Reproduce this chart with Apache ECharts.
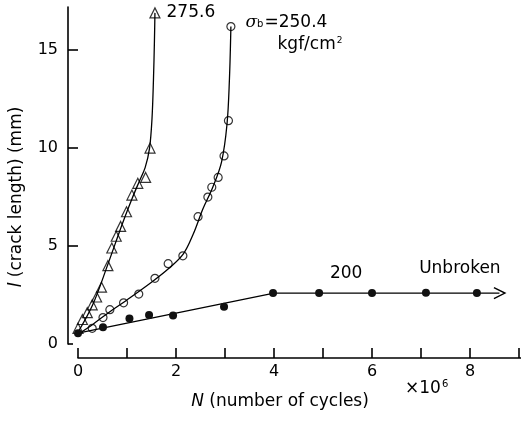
<!DOCTYPE html>
<html>
<head>
<meta charset="utf-8">
<script src="https://cdn.jsdelivr.net/npm/echarts@6/dist/echarts.min.js"></script>
<style>
  html, body { margin: 0; padding: 0; background: #fff; }
  #chart { width: 521px; height: 422px; }
</style>
</head>
<body>
<div id="chart"></div>
<script>
// Crack growth: crack length l (mm) vs number of cycles N (×10^6)

// sigma_b = 275.6 kgf/cm2 : measured points and fitted curve
const tri275 = [[0.0,0.8],[0.09,1.25],[0.19,1.6],[0.29,2.0],[0.38,2.4],[0.48,2.9],[0.61,4.0],
  [0.69,4.9],[0.78,5.5],[0.87,6.0],[0.99,6.75],[1.10,7.6],[1.22,8.2],[1.38,8.5],[1.47,10.0],[1.57,16.9]];
const fit275 = [[0,0.6],[0.3,2.0],[0.6,4.0],[0.9,6.1],[1.1,7.4],[1.25,8.3],[1.37,9.0],
  [1.46,10.0],[1.51,11.5],[1.54,13.5],[1.56,15.5],[1.57,16.9]];

// sigma_b = 250.4 kgf/cm2
const circ250 = [[0.29,0.8],[0.51,1.35],[0.65,1.75],[0.93,2.1],[1.24,2.55],[1.57,3.35],[1.84,4.1],
  [2.14,4.5],[2.45,6.5],[2.65,7.5],[2.73,8.0],[2.86,8.5],[2.98,9.6],[3.07,11.4],[3.12,16.2]];
const fit250 = [[0,0.5],[0.3,1.0],[0.65,1.65],[1.0,2.25],[1.5,3.15],[1.85,3.85],[2.15,4.6],
  [2.35,5.6],[2.55,6.9],[2.75,8.0],[2.93,9.3],[3.04,11.2],[3.09,13.5],[3.12,16.2]];

// sigma_b = 200 kgf/cm2 (unbroken)
const dot200 = [[0,0.55],[0.51,0.85],[1.05,1.3],[1.45,1.48],[1.94,1.45],[2.98,1.9],
  [3.98,2.6],[4.92,2.6],[6.0,2.6],[7.1,2.62],[8.14,2.6]];
const fit200 = [[0,0.55],[4.0,2.6],[8.6,2.6]];

const xTickValues = [0,1,2,3,4,5,6,7,8,9];
const xLabelValues = [0,2,4,6,8];
const yTickValues = [5,10,15];
const yLabelValues = [0,5,10,15];

const ink = '#000';
const font = 'DejaVu Sans';

const chart = echarts.init(document.getElementById('chart'), null, { renderer: 'canvas' });

const lineSeries = (data, smooth) => ({
  type: 'line', data: data, smooth: smooth, symbol: 'none', silent: true,
  lineStyle: { color: ink, width: 1.3 }, z: 2
});

const fit200Data = fit200.map((p, i) => i === fit200.length - 1
  ? { value: p, symbol: 'path://M0,0 L10,6 L0,12', symbolSize: [11, 11],
      itemStyle: { color: 'rgba(0,0,0,0)', borderColor: ink, borderWidth: 1.4 } }
  : { value: p });

const labelText = { color: ink, fontFamily: font, fontSize: 17, opacity: 1 };

const option = {
  backgroundColor: '#fff',
  animation: false,
  grid: { left: 78, right: 0, top: 7, bottom: 78, containLabel: false, outerBoundsMode: 'none' },
  xAxis: {
    type: 'value', min: 0, max: 9.04, position: 'bottom', offset: 14,
    name: '{i|N} (number of cycles)', nameLocation: 'middle', nameGap: 35,
    nameTextStyle: { color: ink, fontFamily: font, fontSize: 17, padding: [0, 39, 0, 0],
      rich: { i: { fontStyle: 'italic', fontFamily: font, fontSize: 17, color: ink } } },
    axisLine: { show: true, onZero: false, lineStyle: { color: ink, width: 1.6 } },
    axisTick: { show: true, inside: true, length: 10, customValues: xTickValues,
      lineStyle: { color: ink, width: 1.6 } },
    axisLabel: { customValues: xLabelValues, color: ink, fontFamily: font, fontSize: 16, margin: 6 },
    splitLine: { show: false }
  },
  yAxis: [{
    type: 'value', min: 0, max: 17.2, position: 'left', offset: 10,
    name: '{i|l} (crack length) (mm)', nameLocation: 'middle', nameGap: 43, nameRotate: 90,
    nameTextStyle: { color: ink, fontFamily: font, fontSize: 17, padding: [0, 43, 0, 0],
      rich: { i: { fontStyle: 'italic', fontFamily: font, fontSize: 17, color: ink } } },
    axisLine: { show: true, onZero: false, lineStyle: { color: ink, width: 1.6 } },
    axisTick: { show: true, inside: true, length: 10, customValues: yTickValues,
      lineStyle: { color: ink, width: 1.6 } },
    axisLabel: { customValues: yLabelValues, color: ink, fontFamily: font, fontSize: 16, margin: 10 },
    splitLine: { show: false }
  }, {
    type: 'value', min: 0, max: 17.2, position: 'left', offset: 10,
    axisLine: { show: false, onZero: false },
    axisTick: { show: true, inside: true, length: 5, customValues: [0],
      lineStyle: { color: ink, width: 1.6 } },
    axisLabel: { show: false },
    splitLine: { show: false }
  }],
  graphic: [{
    type: 'text', left: 405, top: 379,
    style: {
      text: '{t|×10}{s|6}',
      rich: {
        t: { fontFamily: font, fontSize: 17, fill: ink },
        s: { fontFamily: font, fontSize: 10, fill: ink, padding: [0, 0, 9, 1] }
      }
    }
  }],
  series: [
    lineSeries(fit275, 0.35),
    {
      type: 'scatter', data: tri275.map((p, i) => i === tri275.length - 1
        ? { value: p, label: Object.assign({ show: true, position: 'right', distance: 6,
            formatter: '275.6' }, labelText) }
        : p),
      symbol: 'triangle', symbolSize: 10,
      itemStyle: { color: 'rgba(255,255,255,0)', borderColor: ink, borderWidth: 1.2 }, z: 3
    },
    lineSeries(fit250, 0.35),
    {
      type: 'scatter', data: circ250.map((p, i) => i === circ250.length - 1
        ? { value: p, label: { show: true, position: 'right', distance: 10, offset: [0, 7],
            formatter: '{s|σ}{b|b}{t|=250.4}\n{p|}{t|kgf/cm}{u|2}',
            lineHeight: 22, opacity: 1,
            rich: {
              s: { fontFamily: 'DejaVu Serif', fontStyle: 'italic', fontSize: 17, color: ink },
              b: { fontFamily: font, fontSize: 10, color: ink, padding: [4, 1, 0, 0] },
              t: { fontFamily: font, fontSize: 17, color: ink },
              p: { width: 32 },
              u: { fontFamily: font, fontSize: 9, color: ink, padding: [0, 0, 7, 1] }
            } } }
        : p),
      symbol: 'circle', symbolSize: 8,
      itemStyle: { color: 'rgba(255,255,255,0)', borderColor: ink, borderWidth: 1.2 }, z: 3
    },
    Object.assign(lineSeries(fit200Data, false), { symbol: 'none', showSymbol: true }),
    {
      type: 'scatter', data: dot200.map((p, i) => {
        if (i === 7) return { value: p, label: Object.assign({ show: true, position: 'inside',
          offset: [27, -19], formatter: '200' }, labelText) };
        if (i === dot200.length - 1) return { value: p, label: Object.assign({ show: true,
          position: 'inside', offset: [-17, -24], formatter: 'Unbroken' }, labelText) };
        return p;
      }),
      symbol: 'circle', symbolSize: 8,
      itemStyle: { color: '#111', opacity: 1 }, z: 3
    }
  ]
};

chart.setOption(option);
</script>
</body>
</html>
